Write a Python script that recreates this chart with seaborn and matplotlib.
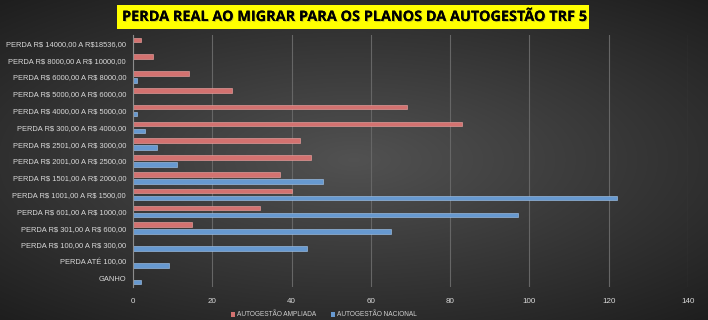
import numpy as np
import pandas as pd
import matplotlib
matplotlib.use("Agg")
import matplotlib.pyplot as plt
import matplotlib.patheffects as pe
import seaborn as sns

plt.rcParams["text.parse_math"] = False

categories = [
    "PERDA R$ 14000,00 A R$18536,00",
    "PERDA R$ 8000,00 A R$ 10000,00",
    "PERDA R$ 6000,00 A R$ 8000,00",
    "PERDA R$ 5000,00 A R$ 6000,00",
    "PERDA R$ 4000,00 A R$ 5000,00",
    "PERDA R$ 300,00 A R$ 4000,00",
    "PERDA R$ 2501,00 A R$ 3000,00",
    "PERDA R$ 2001,00 A R$ 2500,00",
    "PERDA R$ 1501,00 A R$ 2000,00",
    "PERDA R$ 1001,00 A R$ 1500,00",
    "PERDA R$ 601,00 A R$ 1000,00",
    "PERDA R$ 301,00 A R$ 600,00",
    "PERDA R$ 100,00 A R$ 300,00",
    "PERDA ATÉ 100,00",
    "GANHO",
]
ampliada = [2, 5, 14, 25, 69, 83, 42, 45, 37, 40, 32, 15, 0, 0, 0]
nacional = [0, 0, 1, 0, 1, 3, 6, 11, 48, 122, 97, 65, 44, 9, 2]
series_names = ["AUTOGESTÃO AMPLIADA", "AUTOGESTÃO NACIONAL"]
xticks = [0, 20, 40, 60, 80, 100, 120, 140]
title = "PERDA REAL AO MIGRAR PARA OS PLANOS DA AUTOGESTÃO TRF 5"

df = pd.DataFrame({
    "cat": categories * 2,
    "val": ampliada + nacional,
    "serie": [series_names[0]] * len(categories) + [series_names[1]] * len(categories),
})

fig = plt.figure(figsize=(7.08, 3.2), dpi=100)

# background gradient
bg = fig.add_axes([0, 0, 1, 1], zorder=-10)
yy, xx = np.mgrid[-1:1:320j, -1:1:708j]
r = np.sqrt((xx * 0.9) ** 2 + (yy * 1.0) ** 2)
g = np.clip(0.32 - 0.15 * r, 0.12, 0.40)
bg.imshow(np.dstack([g, g, g]), aspect="auto", extent=[0, 1, 0, 1])
bg.set_axis_off()

ax = fig.add_axes([133 / 708, 1 - 287 / 320, (688 - 133) / 708, (287 - 35) / 320])
ax.set_facecolor("none")
sns.barplot(data=df, y="cat", x="val", hue="serie", orient="h", ax=ax,
            palette=["#e4625f", "#5598e2"], width=0.85, gap=0.35,
            linewidth=0.4, legend=True)
for bars, ec in zip(ax.containers, ["#f4a9a7", "#a9ccf2"]):
    for b in bars:
        b.set_edgecolor(ec)

ax.set_xlim(0, 140)
ax.set_xticks(xticks)
ax.set_xlabel("")
ax.set_ylabel("")
ax.grid(axis="x", color="#666666", linewidth=0.8)
ax.grid(axis="y", visible=False)
ax.set_axisbelow(True)
for s in ["top", "right", "bottom"]:
    ax.spines[s].set_visible(False)
ax.spines["left"].set_color("#8c8c8c")
ax.spines["left"].set_linewidth(0.8)
ax.tick_params(axis="both", length=0, labelsize=5.4, labelcolor="#d9d9d9")
ax.tick_params(axis="y", pad=5)
ax.tick_params(axis="x", pad=8, labelsize=5.8)
for t in ax.get_yticklabels() + ax.get_xticklabels():
    t.set_family("Liberation Sans")

leg = ax.legend(loc="center", ncol=2, frameon=False,
                labelcolor="#d0d0d0", handlelength=0.6, handleheight=0.7,
                columnspacing=2.2, handletextpad=0.3,
                bbox_to_anchor=(324 / 708, 5 / 320), bbox_transform=fig.transFigure,
                prop={"family": "Liberation Sans", "size": 4.7})

ttl = fig.text(353 / 708, 1 - 17 / 320, title, ha="center", va="center",
               fontsize=10.4, fontweight="bold", family="Open Sans", color="black",
               bbox=dict(boxstyle="square,pad=0.32", facecolor="#ffff00", edgecolor="none"))
ttl.set_path_effects([pe.withSimplePatchShadow(offset=(0.7, -0.7), shadow_rgbFace="#9a9a40", alpha=0.5), pe.Normal()])

fig.savefig("out.png", dpi=100)
